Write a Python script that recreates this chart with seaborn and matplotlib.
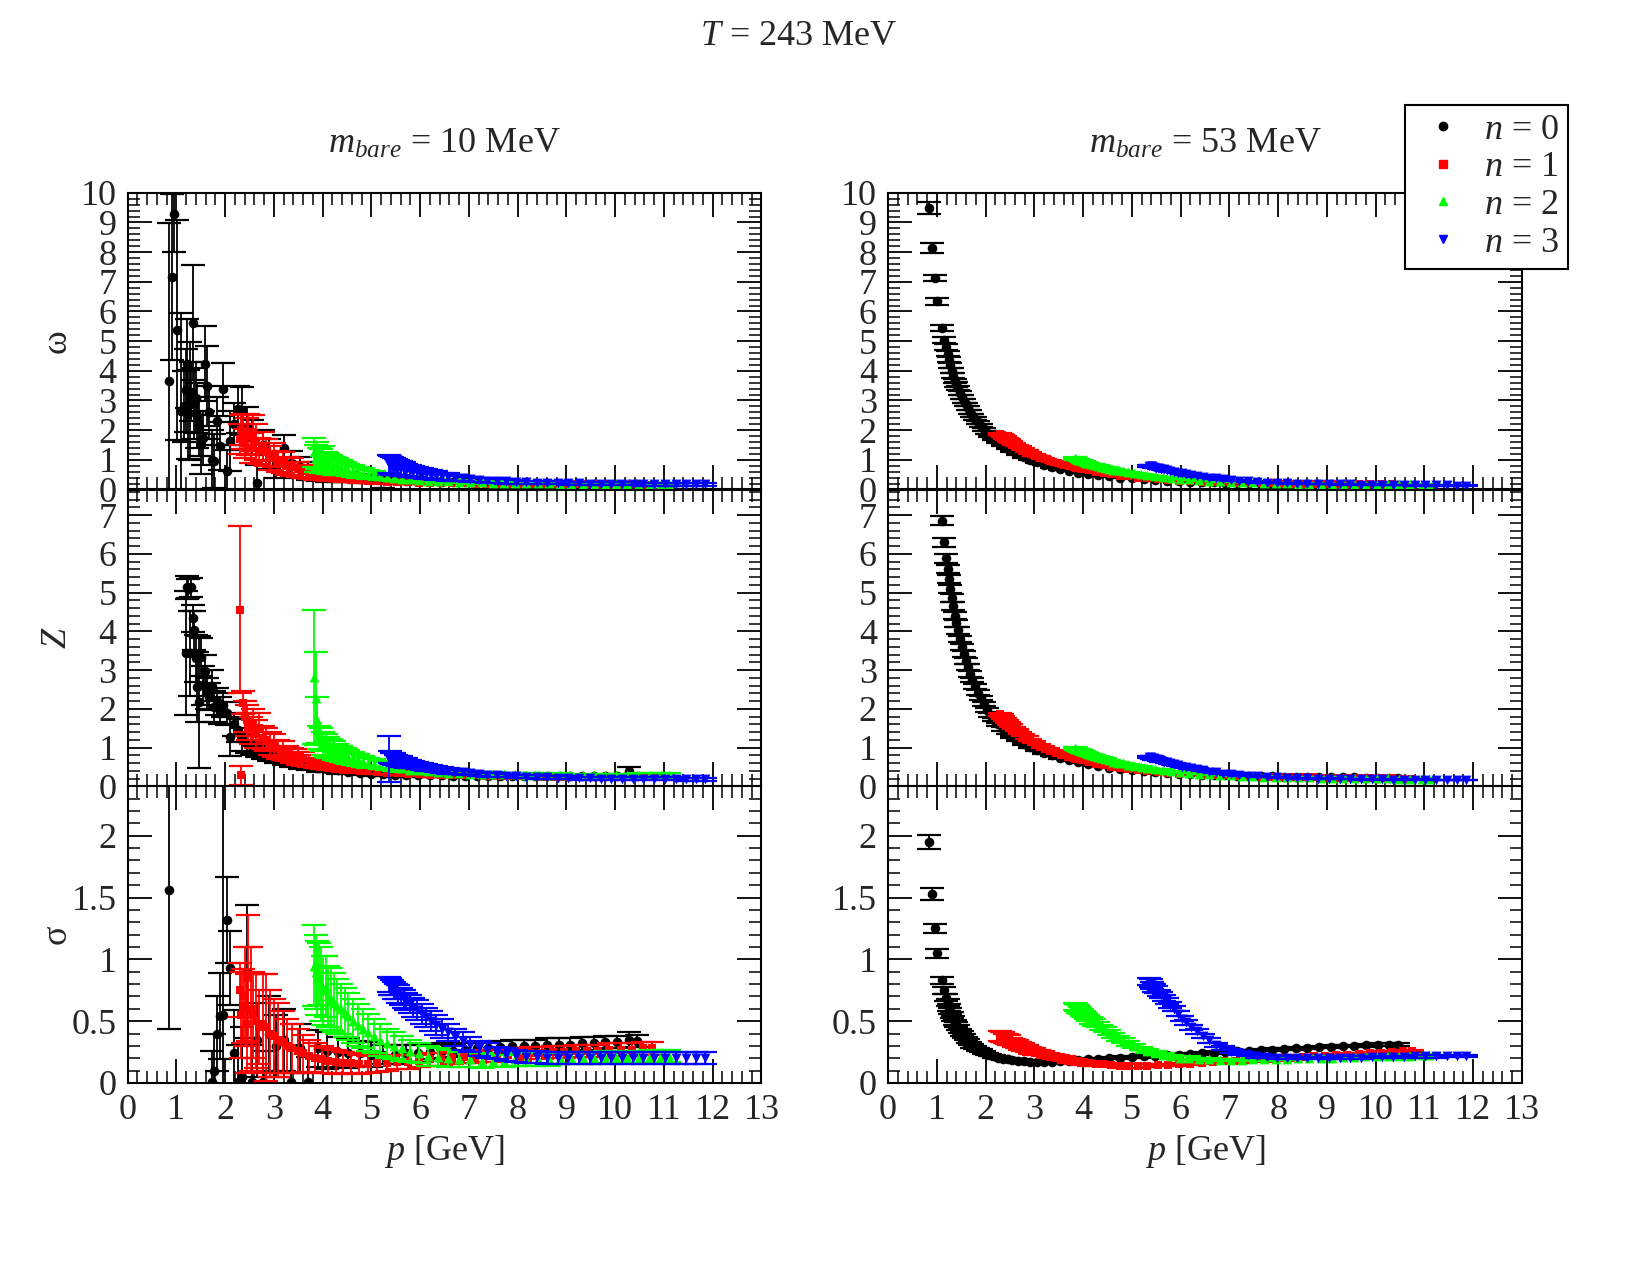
import pandas as pd
import matplotlib
matplotlib.use('Agg')
import matplotlib.pyplot as plt
from matplotlib.lines import Line2D
from matplotlib.ticker import MultipleLocator, FormatStrFormatter
import seaborn as sns

# --- momenta p [GeV] for each Matsubara index n (shared by all panels) ---
X0 = [0.85, 0.91, 0.96, 1.01, 1.10, 1.15, 1.19, 1.22, 1.25, 1.28,
      1.31, 1.34, 1.37, 1.40, 1.43, 1.47, 1.51, 1.55, 1.59, 1.63,
      1.68, 1.73, 1.78, 1.84, 1.90, 1.96, 2.03, 2.10, 2.18, 2.26,
      2.35, 2.45, 2.55, 2.66, 2.78, 2.91, 3.05, 3.20, 3.36, 3.53,
      3.71, 3.90, 4.10, 4.31, 4.53, 4.76, 5.00, 5.24, 5.48, 5.72,
      5.96, 6.20, 6.44, 6.68, 6.92, 7.16, 7.40, 7.64, 7.88, 8.12,
      8.36, 8.60, 8.84, 9.08, 9.32, 9.56, 9.80, 10.04, 10.28, 10.45]
X1 = [2.30, 2.33, 2.36, 2.40, 2.44, 2.48, 2.53, 2.58, 2.64, 2.70,
      2.77, 2.84, 2.92, 3.00, 3.09, 3.18, 3.28, 3.38, 3.49, 3.60,
      3.72, 3.85, 3.98, 4.12, 4.27, 4.42, 4.58, 4.75, 4.93, 5.12,
      5.32, 5.53, 5.75, 5.97, 6.20, 6.43, 6.66, 6.89, 7.12, 7.35,
      7.58, 7.81, 8.04, 8.27, 8.50, 8.73, 8.96, 9.19, 9.42, 9.65,
      9.88, 10.11, 10.34, 10.57, 10.75]
X2 = [3.83, 3.86, 3.89, 3.93, 3.97, 4.01, 4.06, 4.11, 4.17, 4.23,
      4.30, 4.37, 4.45, 4.53, 4.62, 4.72, 4.82, 4.93, 5.05, 5.18,
      5.32, 5.47, 5.63, 5.80, 5.98, 6.17, 6.37, 6.58, 6.80, 7.03,
      7.26, 7.49, 7.72, 7.95, 8.18, 8.41, 8.64, 8.87, 9.10, 9.33,
      9.56, 9.79, 10.02, 10.25, 10.48, 10.71, 10.94, 11.10]
X3 = [5.36, 5.39, 5.42, 5.46, 5.50, 5.55, 5.60, 5.66, 5.72, 5.79,
      5.86, 5.94, 6.03, 6.12, 6.22, 6.33, 6.45, 6.58, 6.72, 6.87,
      7.03, 7.20, 7.38, 7.57, 7.77, 7.97, 8.18, 8.39, 8.60, 8.82,
      9.04, 9.26, 9.48, 9.70, 9.92, 10.14, 10.36, 10.58, 10.80, 11.02,
      11.24, 11.46, 11.66, 11.85]

# ===================== m_bare = 10 MeV =====================
w10_n0 = [3.67, 7.16, 9.30, 5.37, 2.64, 2.80, 3.34, 4.24, 2.53, 2.98,
          3.30, 5.62, 2.90, 3.09, 2.50, 2.13, 1.52, 1.74, 4.24, 3.48,
          2.60, 1.01, 0.96, 2.30, 1.46, 3.37, 0.62, 1.63, 2.20, 2.70,
          2.64, 2.08, 1.75, 0.22, 1.50, 1.20, 0.85, 1.40, 0.90, 0.75,
          0.62, 0.55, 0.50, 0.45, 0.42, 0.38, 0.35, -0.05, 0.31, 0.29,
          0.28, 0.27, 0.26, 0.25, 0.24, 0.23, 0.22, 0.21, 0.21, 0.20,
          0.20, 0.19, 0.19, 0.18, 0.18, 0.18, 0.17, 0.17, 0.17, 0.17]
w10_n0_err = [5.3, 2.8, 1.3, 3.7, 3.3, 1.2, 1.4, 1.5, 1.5, 2.0,
              1.0, 1.93, 1.2, 1.2, 1.1, 1.0, 1.0, 0.9, 1.26, 1.35,
              0.9, 1.0, 0.9, 0.8, 0.8, 0.9, 0.7, 1.0, 0.7, 0.8,
              0.8, 0.7, 0.6, 0.6, 0.5, 0.5, 0.45, 0.45, 0.4, 0.35,
              0.3, 0.28, 0.25, 0.2, 0.18, 0.15, 0.12, 0.1, 0.1, 0.09,
              0.08, 0.08, 0.07, 0.07, 0.06, 0.06, 0.06, 0.05, 0.05, 0.05,
              0.05, 0.05, 0.05, 0.05, 0.05, 0.05, 0.05, 0.05, 0.05, 0.05]
w10_n1 = [1.70, 2.00, 1.95, 1.55, 1.80, 1.85, 1.40, 1.90, 1.60, 1.30,
          1.45, 1.25, 1.05, 1.15, 0.95, 0.90, 0.80, 0.75, 0.68, 0.62,
          0.55, 0.50, 0.47, 0.43, 0.40, 0.36, 0.34, 0.31, 0.29, 0.27,
          0.26, 0.25, 0.24, 0.23, 0.22, 0.22, 0.21, 0.21, 0.20, 0.20,
          0.19, 0.19, 0.19, 0.18, 0.18, 0.18, 0.18, 0.17, 0.17, 0.17,
          0.17, 0.17, 0.17, 0.16, 0.16]
w10_n1_err = [0.5, 0.5, 0.6, 0.5, 0.6, 0.7, 0.5, 0.6, 0.6, 0.45,
              0.5, 0.45, 0.4, 0.4, 0.35, 0.35, 0.3, 0.3, 0.25, 0.22,
              0.2, 0.18, 0.15, 0.13, 0.12, 0.1, 0.09, 0.08, 0.07, 0.07,
              0.06, 0.06, 0.05, 0.05, 0.05, 0.05, 0.04, 0.04, 0.04, 0.04,
              0.04, 0.04, 0.04, 0.04, 0.04, 0.04, 0.04, 0.04, 0.04, 0.04,
              0.04, 0.04, 0.04, 0.04, 0.04]
w10_n2 = [1.25, 1.05, 1.15, 1.00, 0.95, 1.05, 0.90, 0.88, 0.85, 0.80,
          0.78, 0.74, 0.70, 0.66, 0.62, 0.58, 0.55, 0.51, 0.48, 0.45,
          0.42, 0.39, 0.36, 0.34, 0.32, 0.30, 0.29, 0.27, 0.26, 0.25,
          0.24, 0.23, 0.23, 0.22, 0.22, 0.21, 0.21, 0.20, 0.20, 0.20,
          0.19, 0.19, 0.19, 0.19, 0.18, 0.18, 0.18, 0.18]
w10_n2_err = [0.5, 0.45, 0.45, 0.4, 0.4, 0.4, 0.35, 0.35, 0.3, 0.3,
              0.28, 0.25, 0.22, 0.2, 0.2, 0.18, 0.16, 0.15, 0.13, 0.12,
              0.1, 0.09, 0.08, 0.07, 0.07, 0.06, 0.06, 0.05, 0.05, 0.05,
              0.05, 0.04, 0.04, 0.04, 0.04, 0.04, 0.04, 0.04, 0.04, 0.04,
              0.04, 0.04, 0.04, 0.04, 0.04, 0.04, 0.04, 0.04]
w10_n3 = [0.85, 0.82, 0.80, 0.78, 0.76, 0.74, 0.71, 0.69, 0.66, 0.63,
          0.61, 0.58, 0.55, 0.52, 0.50, 0.47, 0.44, 0.42, 0.39, 0.37,
          0.34, 0.32, 0.30, 0.28, 0.27, 0.25, 0.24, 0.23, 0.22, 0.22,
          0.21, 0.21, 0.20, 0.20, 0.19, 0.19, 0.19, 0.18, 0.18, 0.18,
          0.18, 0.17, 0.17, 0.17]
w10_n3_err = [0.3, 0.3, 0.3, 0.28, 0.27, 0.25, 0.24, 0.22, 0.21, 0.2,
              0.19, 0.18, 0.17, 0.16, 0.15, 0.14, 0.13, 0.12, 0.11, 0.1,
              0.09, 0.08, 0.08, 0.07, 0.07, 0.06, 0.06, 0.05, 0.05, 0.05,
              0.05, 0.05, 0.05, 0.05, 0.05, 0.05, 0.05, 0.05, 0.05, 0.05,
              0.05, 0.05, 0.05, 0.05]

Z10_n0 = [16.0, 13.0, 11.0, 9.5, 8.6, 8.2, 3.43, 5.14, 5.10, 3.43,
          5.14, 4.34, 4.03, 3.30, 2.57, 2.18, 3.34, 2.61, 2.98, 2.40,
          2.31, 2.60, 2.05, 2.20, 1.95, 2.10, 1.88, 1.28, 1.60, 1.45,
          1.20, 1.10, 1.05, 0.95, 0.90, 0.85, 0.75, 0.70, 0.62, 0.57,
          0.52, 0.48, 0.44, 0.41, 0.38, 0.35, 0.33, 0.31, 0.30, 0.29,
          0.29, 0.28, 0.28, 0.27, 0.27, 0.27, 0.26, 0.26, 0.26, 0.26,
          0.26, 0.26, 0.26, 0.26, 0.26, 0.26, 0.26, 0.27, 0.40, 0.27]
Z10_n0_err = [1.0, 1.0, 1.0, 1.0, 0.8, 0.4, 1.6, 0.3, 0.25, 1.1,
              0.25, 0.35, 0.5, 0.6, 0.9, 1.7, 0.5, 0.5, 0.4, 0.4,
              0.35, 0.4, 0.4, 0.35, 0.35, 0.3, 0.3, 0.5, 0.3, 0.3,
              0.3, 0.25, 0.25, 0.2, 0.2, 0.2, 0.15, 0.15, 0.12, 0.12,
              0.1, 0.1, 0.08, 0.08, 0.07, 0.06, 0.06, 0.05, 0.05, 0.05,
              0.05, 0.05, 0.04, 0.04, 0.04, 0.04, 0.04, 0.04, 0.04, 0.04,
              0.04, 0.04, 0.04, 0.04, 0.04, 0.04, 0.04, 0.04, 0.1, 0.04]
Z10_n1 = [4.56, 0.28, 2.16, 1.80, 1.70, 1.55, 1.45, 1.60, 1.35, 1.50,
          1.25, 1.20, 1.10, 1.05, 0.95, 0.92, 0.85, 0.80, 0.75, 0.70,
          0.65, 0.60, 0.56, 0.52, 0.49, 0.46, 0.43, 0.41, 0.39, 0.37,
          0.35, 0.34, 0.32, 0.31, 0.30, 0.29, 0.29, 0.28, 0.28, 0.27,
          0.27, 0.26, 0.26, 0.26, 0.25, 0.25, 0.25, 0.25, 0.25, 0.24,
          0.24, 0.24, 0.24, 0.24, 0.24]
Z10_n1_err = [2.15, 0.25, 0.3, 0.4, 0.4, 0.35, 0.35, 0.4, 0.35, 0.4,
              0.3, 0.3, 0.3, 0.3, 0.25, 0.25, 0.2, 0.2, 0.2, 0.18,
              0.15, 0.14, 0.12, 0.11, 0.1, 0.09, 0.08, 0.07, 0.07, 0.06,
              0.06, 0.05, 0.05, 0.05, 0.05, 0.05, 0.04, 0.04, 0.04, 0.04,
              0.04, 0.04, 0.04, 0.04, 0.04, 0.04, 0.04, 0.04, 0.04, 0.04,
              0.04, 0.04, 0.04, 0.04, 0.04]
Z10_n2 = [2.83, 2.27, 1.71, 1.25, 1.20, 1.10, 1.05, 1.00, 0.98, 0.92,
          0.88, 0.84, 0.80, 0.76, 0.72, 0.68, 0.64, 0.61, 0.58, 0.55,
          0.52, 0.49, 0.46, 0.43, 0.41, 0.39, 0.37, 0.35, 0.34, 0.33,
          0.32, 0.32, 0.31, 0.31, 0.30, 0.30, 0.30, 0.30, 0.29, 0.29,
          0.29, 0.29, 0.29, 0.29, 0.30, 0.30, 0.30, 0.30]
Z10_n2_err = [1.73, 1.2, 0.6, 0.3, 0.3, 0.3, 0.3, 0.28, 0.25, 0.25,
              0.22, 0.2, 0.2, 0.18, 0.17, 0.15, 0.14, 0.13, 0.12, 0.11,
              0.1, 0.09, 0.08, 0.07, 0.07, 0.06, 0.06, 0.05, 0.05, 0.05,
              0.05, 0.04, 0.04, 0.04, 0.04, 0.04, 0.04, 0.04, 0.04, 0.04,
              0.04, 0.04, 0.04, 0.04, 0.04, 0.04, 0.04, 0.04]
Z10_n3 = [0.70, 0.75, 0.72, 0.70, 0.68, 0.66, 0.64, 0.62, 0.60, 0.58,
          0.56, 0.54, 0.51, 0.49, 0.47, 0.45, 0.42, 0.40, 0.38, 0.36,
          0.34, 0.32, 0.30, 0.29, 0.27, 0.26, 0.25, 0.24, 0.23, 0.22,
          0.22, 0.21, 0.21, 0.20, 0.20, 0.20, 0.19, 0.19, 0.19, 0.19,
          0.19, 0.18, 0.18, 0.18]
Z10_n3_err = [0.6, 0.15, 0.15, 0.15, 0.14, 0.13, 0.13, 0.12, 0.12, 0.11,
              0.1, 0.1, 0.09, 0.09, 0.08, 0.08, 0.07, 0.07, 0.06, 0.06,
              0.05, 0.05, 0.05, 0.05, 0.04, 0.04, 0.04, 0.04, 0.04, 0.04,
              0.04, 0.04, 0.04, 0.04, 0.04, 0.04, 0.04, 0.04, 0.04, 0.04,
              0.04, 0.04, 0.04, 0.04]

s10_n0 = [1.56, 3.6, 3.4, 3.3, 3.5, 3.2, 3.6, 3.1, 3.4, 3.3,
          3.0, 3.2, 3.1, 2.9, 3.0, 3.3, 3.1, 3.4, 3.2, 3.0,
          2.9, 0.01, 0.10, 0.40, 0.54, 0.55, 1.32, 0.93, 0.24, 0.01,
          0.05, 0.90, 0.01, 0.35, 0.01, 0.40, 0.30, 0.35, 0.01, 0.28,
          0.01, 0.28, 0.26, 0.25, 0.24, 0.24, 0.23, 0.23, 0.23, 0.24,
          0.24, 0.25, 0.26, 0.26, 0.27, 0.28, 0.28, 0.29, 0.30, 0.30,
          0.30, 0.31, 0.31, 0.31, 0.32, 0.32, 0.33, 0.33, 0.35, 0.34]
s10_n0_err = [1.12, 0.8, 0.8, 0.8, 0.8, 0.7, 0.8, 0.6, 0.8, 0.8,
              0.5, 0.6, 0.6, 0.4, 0.5, 0.8, 0.6, 0.9, 0.7, 0.5,
              0.4, 0.25, 0.3, 0.3, 0.35, 2.0, 0.35, 0.3, 0.35, 0.3,
              0.4, 0.54, 0.3, 0.3, 0.25, 0.3, 0.25, 0.25, 0.3, 0.2,
              0.2, 0.15, 0.15, 0.12, 0.12, 0.1, 0.1, 0.08, 0.08, 0.07,
              0.07, 0.06, 0.06, 0.05, 0.05, 0.05, 0.05, 0.05, 0.05, 0.05,
              0.05, 0.05, 0.05, 0.05, 0.05, 0.05, 0.05, 0.05, 0.06, 0.05]
s10_n1 = [0.75, 0.55, 0.62, 0.70, 0.48, 0.85, 0.60, 0.55, 0.50, 0.45,
          0.48, 0.45, 0.40, 0.38, 0.35, 0.33, 0.30, 0.28, 0.26, 0.24,
          0.22, 0.20, 0.19, 0.18, 0.17, 0.16, 0.16, 0.15, 0.15, 0.16,
          0.16, 0.17, 0.17, 0.18, 0.19, 0.19, 0.20, 0.21, 0.21, 0.22,
          0.22, 0.23, 0.23, 0.24, 0.24, 0.25, 0.25, 0.26, 0.26, 0.26,
          0.27, 0.27, 0.27, 0.28, 0.28]
s10_n1_err = [0.22, 0.35, 0.3, 0.4, 0.4, 0.51, 0.5, 0.35, 0.38, 0.3,
              0.4, 0.43, 0.35, 0.3, 0.3, 0.25, 0.22, 0.2, 0.18, 0.15,
              0.13, 0.12, 0.11, 0.1, 0.1, 0.09, 0.08, 0.08, 0.07, 0.07,
              0.06, 0.06, 0.06, 0.05, 0.05, 0.05, 0.05, 0.05, 0.05, 0.05,
              0.05, 0.05, 0.05, 0.05, 0.05, 0.05, 0.05, 0.05, 0.05, 0.05,
              0.05, 0.05, 0.05, 0.05, 0.05]
s10_n2 = [0.95, 0.90, 0.85, 0.88, 0.80, 0.75, 0.78, 0.70, 0.68, 0.65,
          0.62, 0.60, 0.57, 0.54, 0.50, 0.47, 0.44, 0.41, 0.38, 0.35,
          0.32, 0.30, 0.28, 0.26, 0.24, 0.22, 0.21, 0.20, 0.19, 0.19,
          0.18, 0.18, 0.18, 0.19, 0.19, 0.19, 0.19, 0.20, 0.20, 0.20,
          0.20, 0.21, 0.21, 0.21, 0.21, 0.22, 0.22, 0.22]
s10_n2_err = [0.33, 0.3, 0.3, 0.25, 0.3, 0.28, 0.25, 0.25, 0.25, 0.24,
              0.22, 0.2, 0.2, 0.19, 0.18, 0.17, 0.16, 0.15, 0.14, 0.13,
              0.12, 0.11, 0.1, 0.09, 0.08, 0.08, 0.07, 0.07, 0.06, 0.06,
              0.06, 0.05, 0.05, 0.05, 0.05, 0.05, 0.05, 0.05, 0.05, 0.05,
              0.05, 0.05, 0.05, 0.05, 0.05, 0.05, 0.05, 0.05]
s10_n3 = [0.80, 0.78, 0.77, 0.75, 0.74, 0.72, 0.70, 0.68, 0.66, 0.64,
          0.61, 0.59, 0.56, 0.53, 0.50, 0.47, 0.44, 0.41, 0.37, 0.34,
          0.31, 0.28, 0.26, 0.24, 0.23, 0.22, 0.21, 0.21, 0.20, 0.20,
          0.20, 0.20, 0.20, 0.20, 0.20, 0.20, 0.20, 0.20, 0.20, 0.20,
          0.20, 0.20, 0.20, 0.20]
s10_n3_err = [0.06, 0.07, 0.06, 0.07, 0.06, 0.07, 0.07, 0.07, 0.07, 0.07,
              0.08, 0.08, 0.08, 0.08, 0.08, 0.08, 0.08, 0.07, 0.07, 0.07,
              0.06, 0.06, 0.06, 0.05, 0.05, 0.05, 0.05, 0.05, 0.05, 0.05,
              0.05, 0.05, 0.05, 0.05, 0.05, 0.05, 0.05, 0.05, 0.05, 0.05,
              0.05, 0.05, 0.05, 0.05]

# ===================== m_bare = 53 MeV =====================
w53_n0 = [9.49, 8.14, 7.12, 6.35, 5.45, 5.05, 4.80, 4.58, 4.38, 4.18,
          4.00, 3.84, 3.66, 3.53, 3.42, 3.26, 3.12, 2.99, 2.87, 2.75,
          2.62, 2.50, 2.38, 2.26, 2.14, 2.03, 1.92, 1.81, 1.70, 1.60,
          1.49, 1.39, 1.29, 1.19, 1.10, 1.01, 0.92, 0.84, 0.76, 0.69,
          0.63, 0.57, 0.52, 0.48, 0.44, 0.40, 0.37, 0.34, 0.32, 0.30,
          0.28, 0.26, 0.25, 0.24, 0.23, 0.22, 0.21, 0.20, 0.20, 0.19,
          0.19, 0.18, 0.18, 0.17, 0.17, 0.17, 0.16, 0.16, 0.16, 0.16]
w53_n0_err = [0.21, 0.17, 0.11, 0.12, 0.10, 0.10, 0.10, 0.09, 0.09, 0.09,
              0.08, 0.08, 0.08, 0.08, 0.07, 0.07, 0.07, 0.07, 0.06, 0.06,
              0.06, 0.06, 0.05, 0.05, 0.05, 0.05, 0.05, 0.04, 0.04, 0.04,
              0.04, 0.04, 0.03, 0.03, 0.03, 0.03, 0.03, 0.03, 0.02, 0.02,
              0.02, 0.02, 0.02, 0.02, 0.02, 0.02, 0.02, 0.02, 0.02, 0.02,
              0.01, 0.01, 0.01, 0.01, 0.01, 0.01, 0.01, 0.01, 0.01, 0.01,
              0.01, 0.01, 0.01, 0.01, 0.01, 0.01, 0.01, 0.01, 0.01, 0.01]
w53_n1 = [1.88, 1.84, 1.80, 1.75, 1.70, 1.65, 1.60, 1.54, 1.48, 1.42,
          1.36, 1.29, 1.23, 1.17, 1.11, 1.05, 0.99, 0.94, 0.88, 0.83,
          0.78, 0.73, 0.68, 0.64, 0.59, 0.55, 0.51, 0.47, 0.44, 0.40,
          0.37, 0.34, 0.32, 0.30, 0.28, 0.26, 0.25, 0.24, 0.23, 0.22,
          0.21, 0.21, 0.20, 0.20, 0.19, 0.19, 0.18, 0.18, 0.18, 0.17,
          0.17, 0.17, 0.17, 0.16, 0.16]
w53_n2 = [1.05, 1.03, 1.01, 0.98, 0.96, 0.93, 0.90, 0.88, 0.85, 0.82,
          0.79, 0.76, 0.73, 0.70, 0.67, 0.64, 0.61, 0.58, 0.54, 0.51,
          0.48, 0.45, 0.42, 0.39, 0.36, 0.34, 0.31, 0.29, 0.27, 0.26,
          0.25, 0.24, 0.23, 0.22, 0.21, 0.20, 0.20, 0.19, 0.19, 0.18,
          0.18, 0.18, 0.17, 0.17, 0.17, 0.17, 0.16, 0.16]
w53_n3 = [0.80, 0.79, 0.78, 0.76, 0.74, 0.72, 0.70, 0.68, 0.65, 0.63,
          0.60, 0.57, 0.54, 0.51, 0.48, 0.45, 0.43, 0.40, 0.37, 0.34,
          0.31, 0.29, 0.27, 0.25, 0.23, 0.22, 0.21, 0.20, 0.19, 0.18,
          0.18, 0.17, 0.17, 0.16, 0.16, 0.15, 0.15, 0.15, 0.14, 0.14,
          0.14, 0.14, 0.13, 0.13]

Z53_n0 = [14.0, 11.6, 9.9, 8.6, 6.86, 6.30, 5.89, 5.61, 5.35, 5.10,
          4.87, 4.65, 4.40, 4.21, 4.03, 3.80, 3.60, 3.41, 3.24, 3.08,
          2.90, 2.74, 2.58, 2.42, 2.27, 2.12, 1.97, 1.84, 1.72, 1.60,
          1.48, 1.38, 1.28, 1.19, 1.10, 1.02, 0.94, 0.86, 0.80, 0.73,
          0.67, 0.62, 0.57, 0.52, 0.48, 0.45, 0.42, 0.39, 0.36, 0.34,
          0.32, 0.31, 0.30, 0.29, 0.28, 0.27, 0.27, 0.26, 0.26, 0.25,
          0.25, 0.24, 0.24, 0.23, 0.23, 0.23, 0.22, 0.22, 0.22, 0.22]
Z53_n0_err = [0.20, 0.18, 0.15, 0.14, 0.12, 0.12, 0.12, 0.11, 0.11, 0.10,
              0.10, 0.10, 0.09, 0.09, 0.09, 0.08, 0.08, 0.08, 0.07, 0.07,
              0.07, 0.06, 0.06, 0.06, 0.05, 0.05, 0.05, 0.05, 0.04, 0.04,
              0.04, 0.04, 0.03, 0.03, 0.03, 0.03, 0.03, 0.02, 0.02, 0.02,
              0.02, 0.02, 0.02, 0.02, 0.02, 0.02, 0.02, 0.02, 0.02, 0.02,
              0.01, 0.01, 0.01, 0.01, 0.01, 0.01, 0.01, 0.01, 0.01, 0.01,
              0.01, 0.01, 0.01, 0.01, 0.01, 0.01, 0.01, 0.01, 0.01, 0.01]
Z53_n1 = [1.86, 1.82, 1.77, 1.72, 1.67, 1.62, 1.57, 1.51, 1.45, 1.38,
          1.32, 1.26, 1.20, 1.14, 1.08, 1.02, 0.96, 0.91, 0.86, 0.81,
          0.76, 0.71, 0.67, 0.63, 0.58, 0.55, 0.51, 0.48, 0.45, 0.42,
          0.39, 0.37, 0.35, 0.33, 0.31, 0.30, 0.29, 0.28, 0.27, 0.26,
          0.25, 0.25, 0.24, 0.24, 0.23, 0.23, 0.22, 0.22, 0.22, 0.21,
          0.21, 0.21, 0.21, 0.20, 0.20]
Z53_n2 = [0.98, 0.96, 0.94, 0.92, 0.90, 0.88, 0.86, 0.83, 0.81, 0.78,
          0.75, 0.73, 0.70, 0.67, 0.64, 0.61, 0.59, 0.56, 0.53, 0.50,
          0.47, 0.44, 0.42, 0.39, 0.37, 0.35, 0.33, 0.31, 0.29, 0.28,
          0.27, 0.26, 0.25, 0.24, 0.24, 0.23, 0.23, 0.22, 0.22, 0.22,
          0.21, 0.21, 0.21, 0.21, 0.20, 0.20, 0.20, 0.20]
Z53_n3 = [0.76, 0.75, 0.74, 0.72, 0.70, 0.68, 0.66, 0.64, 0.62, 0.59,
          0.57, 0.54, 0.51, 0.49, 0.46, 0.44, 0.41, 0.38, 0.36, 0.33,
          0.31, 0.29, 0.27, 0.26, 0.24, 0.23, 0.22, 0.21, 0.21, 0.20,
          0.20, 0.19, 0.19, 0.18, 0.18, 0.18, 0.17, 0.17, 0.17, 0.17,
          0.16, 0.16, 0.16, 0.16]

s53_n0 = [1.95, 1.53, 1.25, 1.05, 0.83, 0.75, 0.69, 0.65, 0.61, 0.58,
          0.55, 0.52, 0.49, 0.47, 0.45, 0.42, 0.40, 0.38, 0.36, 0.34,
          0.32, 0.30, 0.29, 0.27, 0.26, 0.245, 0.235, 0.225, 0.215, 0.205,
          0.195, 0.19, 0.185, 0.18, 0.175, 0.17, 0.17, 0.17, 0.17, 0.175,
          0.18, 0.185, 0.19, 0.195, 0.20, 0.205, 0.21, 0.215, 0.22, 0.225,
          0.23, 0.235, 0.24, 0.245, 0.25, 0.255, 0.26, 0.265, 0.27, 0.275,
          0.28, 0.285, 0.29, 0.295, 0.30, 0.30, 0.305, 0.31, 0.31, 0.31]
s53_n0_err = [0.06, 0.05, 0.04, 0.035, 0.03, 0.03, 0.028, 0.026, 0.025, 0.024,
              0.022, 0.021, 0.02, 0.02, 0.019, 0.018, 0.017, 0.016, 0.015, 0.015,
              0.014, 0.013, 0.013, 0.012, 0.012, 0.011, 0.011, 0.01, 0.01, 0.01,
              0.01, 0.01, 0.01, 0.01, 0.01, 0.01, 0.01, 0.01, 0.01, 0.01,
              0.01, 0.01, 0.01, 0.01, 0.01, 0.01, 0.01, 0.01, 0.01, 0.01,
              0.01, 0.01, 0.01, 0.01, 0.01, 0.01, 0.01, 0.01, 0.01, 0.01,
              0.01, 0.01, 0.01, 0.01, 0.01, 0.01, 0.01, 0.01, 0.01, 0.01]
s53_n1 = [0.38, 0.375, 0.37, 0.36, 0.355, 0.345, 0.335, 0.325, 0.315, 0.30,
          0.29, 0.28, 0.265, 0.255, 0.245, 0.235, 0.225, 0.215, 0.205, 0.195,
          0.185, 0.175, 0.165, 0.16, 0.155, 0.15, 0.145, 0.14, 0.14, 0.14,
          0.14, 0.145, 0.145, 0.15, 0.155, 0.16, 0.17, 0.175, 0.18, 0.185,
          0.19, 0.195, 0.20, 0.205, 0.21, 0.215, 0.22, 0.225, 0.23, 0.235,
          0.24, 0.245, 0.25, 0.255, 0.26]
s53_n2 = [0.62, 0.61, 0.60, 0.585, 0.57, 0.555, 0.54, 0.525, 0.505, 0.49,
          0.47, 0.45, 0.43, 0.41, 0.385, 0.36, 0.34, 0.32, 0.30, 0.28,
          0.26, 0.245, 0.23, 0.215, 0.205, 0.20, 0.195, 0.19, 0.185, 0.185,
          0.185, 0.19, 0.19, 0.195, 0.195, 0.20, 0.20, 0.205, 0.205, 0.21,
          0.21, 0.215, 0.215, 0.22, 0.22, 0.22, 0.225, 0.225]
s53_n3 = [0.82, 0.81, 0.79, 0.77, 0.755, 0.73, 0.71, 0.685, 0.66, 0.63,
          0.60, 0.56, 0.52, 0.49, 0.45, 0.42, 0.38, 0.345, 0.31, 0.285,
          0.26, 0.245, 0.23, 0.22, 0.21, 0.205, 0.205, 0.20, 0.20, 0.20,
          0.20, 0.205, 0.205, 0.205, 0.21, 0.21, 0.21, 0.21, 0.215, 0.215,
          0.215, 0.22, 0.22, 0.22]

# tiny statistical errors of the heavier mass, n >= 1 (same for omega, Z, sigma)
err53_n1 = [0.04, 0.04, 0.04, 0.04, 0.04, 0.04, 0.03, 0.03, 0.03, 0.03,
            0.03, 0.03, 0.03, 0.03, 0.02, 0.02, 0.02, 0.02, 0.02, 0.02,
            0.02, 0.02, 0.02, 0.02, 0.015, 0.015, 0.015, 0.015, 0.015, 0.015,
            0.01, 0.01, 0.01, 0.01, 0.01, 0.01, 0.01, 0.01, 0.01, 0.01,
            0.01, 0.01, 0.01, 0.01, 0.01, 0.01, 0.01, 0.01, 0.01, 0.01,
            0.01, 0.01, 0.01, 0.01, 0.01]
err53_n2 = [0.03, 0.03, 0.03, 0.03, 0.03, 0.025, 0.025, 0.025, 0.025, 0.025,
            0.02, 0.02, 0.02, 0.02, 0.02, 0.02, 0.02, 0.02, 0.015, 0.015,
            0.015, 0.015, 0.015, 0.015, 0.015, 0.015, 0.01, 0.01, 0.01, 0.01,
            0.01, 0.01, 0.01, 0.01, 0.01, 0.01, 0.01, 0.01, 0.01, 0.01,
            0.01, 0.01, 0.01, 0.01, 0.01, 0.01, 0.01, 0.01]
err53_n3 = [0.03, 0.03, 0.03, 0.03, 0.03, 0.025, 0.025, 0.025, 0.025, 0.025,
            0.02, 0.02, 0.02, 0.02, 0.02, 0.02, 0.02, 0.02, 0.015, 0.015,
            0.015, 0.015, 0.015, 0.015, 0.01, 0.01, 0.01, 0.01, 0.01, 0.01,
            0.01, 0.01, 0.01, 0.01, 0.01, 0.01, 0.01, 0.01, 0.01, 0.01,
            0.01, 0.01, 0.01, 0.01]

MASSES = ['10', '53']
QUANTITIES = ['omega', 'Z', 'sigma']
YLABELS = {'omega': 'ω', 'Z': '$Z$', 'sigma': 'σ'}
YMAX = {'omega': 10.0, 'Z': 7.66, 'sigma': 2.4}
COLORS = ['#000000', '#ff0000', '#00ff00', '#0000ff']
MARKERS = ['o', 's', '^', 'v']
SIZES = [48, 36, 50, 50]

P = {0: X0, 1: X1, 2: X2, 3: X3}
VALUES = {
    ('10', 'omega'): [(w10_n0, w10_n0_err), (w10_n1, w10_n1_err), (w10_n2, w10_n2_err), (w10_n3, w10_n3_err)],
    ('10', 'Z'): [(Z10_n0, Z10_n0_err), (Z10_n1, Z10_n1_err), (Z10_n2, Z10_n2_err), (Z10_n3, Z10_n3_err)],
    ('10', 'sigma'): [(s10_n0, s10_n0_err), (s10_n1, s10_n1_err), (s10_n2, s10_n2_err), (s10_n3, s10_n3_err)],
    ('53', 'omega'): [(w53_n0, w53_n0_err), (w53_n1, err53_n1), (w53_n2, err53_n2), (w53_n3, err53_n3)],
    ('53', 'Z'): [(Z53_n0, Z53_n0_err), (Z53_n1, err53_n1), (Z53_n2, err53_n2), (Z53_n3, err53_n3)],
    ('53', 'sigma'): [(s53_n0, s53_n0_err), (s53_n1, err53_n1), (s53_n2, err53_n2), (s53_n3, err53_n3)],
}

# long table
frames = []
for (mass, q), series in VALUES.items():
    for n, (vals, errs) in enumerate(series):
        frames.append(pd.DataFrame({'mass': mass, 'q': q, 'n': n,
                                    'p': P[n], 'val': vals, 'err': errs}))
df = pd.concat(frames, ignore_index=True)

sns.set_theme(style='ticks')
plt.rcParams['font.family'] = ['Liberation Serif', 'DejaVu Serif']
plt.rcParams['mathtext.fontset'] = 'custom'
plt.rcParams['mathtext.rm'] = 'Liberation Serif'
plt.rcParams['mathtext.it'] = 'Liberation Serif:italic'
plt.rcParams['axes.linewidth'] = 1.5

FS = 26
fig = plt.figure(figsize=(16.5, 12.75), dpi=100)

# axes boxes in figure fractions (Grace-like stacked panels)
LEFTS = [0.0773, 0.5382]
WIDTH = 0.3842
BOTTOMS = [0.6161, 0.3833, 0.1506]
HEIGHT = 0.2327

for ci, mass in enumerate(MASSES):
    for ri, q in enumerate(QUANTITIES):
        ax = fig.add_axes([LEFTS[ci], BOTTOMS[ri], WIDTH, HEIGHT])
        for n in range(4):
            sub = df[(df.mass == mass) & (df.q == q) & (df.n == n)]
            ax.errorbar(sub.p, sub.val, yerr=sub.err, fmt='none', ecolor=COLORS[n],
                        elinewidth=1.3, capsize=8.8, capthick=1.6, zorder=2 + 2 * n)
            sns.scatterplot(data=sub, x='p', y='val', color=COLORS[n], marker=MARKERS[n],
                            s=SIZES[n], linewidth=0, legend=False, ax=ax, zorder=3 + 2 * n)

        ax.set_xlim(0, 13)
        ax.set_ylim(0, YMAX[q])
        ax.xaxis.set_major_locator(MultipleLocator(1))
        ax.xaxis.set_minor_locator(MultipleLocator(0.2))
        if q == 'sigma':
            ax.yaxis.set_major_locator(MultipleLocator(0.5))
            ax.yaxis.set_minor_locator(MultipleLocator(0.1))
            ax.yaxis.set_major_formatter(FormatStrFormatter('%g'))
        else:
            ax.yaxis.set_major_locator(MultipleLocator(1))
            ax.yaxis.set_minor_locator(MultipleLocator(0.2))
        ax.tick_params(which='both', direction='in', top=True, right=True,
                       color='black', labelsize=FS, pad=8)
        ax.tick_params(which='major', length=17, width=1.3)
        ax.tick_params(which='minor', length=8.5, width=1.1)
        for sp in ax.spines.values():
            sp.set_color('black')
            sp.set_linewidth(1.5)

        ax.set_ylabel(YLABELS[q] if ci == 0 else '', fontsize=FS)
        ax.yaxis.set_label_coords(-0.085, 0.5)
        if ri == 2:
            ax.set_xlabel('$p$ [GeV]', fontsize=FS)
            ax.xaxis.set_label_coords(0.5, -0.17)
        else:
            ax.set_xlabel('')
            ax.tick_params(labelbottom=False)
        if ri == 0:
            ax.text(0.5, 1.135, '$m_{bare}$ = %s MeV' % mass, transform=ax.transAxes,
                    ha='center', va='baseline', fontsize=FS)

fig.text(0.484, 0.971, '$T$ = 243 MeV', ha='center', va='center', fontsize=FS)

handles = [Line2D([], [], ls='none', marker=MARKERS[n], color=COLORS[n], markersize=6)
           for n in range(4)]
labels = ['$n$ = %d' % n for n in range(4)]
leg = fig.legend(handles, labels, loc='upper right', bbox_to_anchor=(0.9505, 0.918),
                 frameon=True, fancybox=False, edgecolor='black', framealpha=1,
                 fontsize=26, handlelength=1.6, handletextpad=0.33, labelspacing=0.12,
                 borderpad=0.25, borderaxespad=0)
leg.get_frame().set_linewidth(1.5)

fig.savefig('out.png', dpi=100)
